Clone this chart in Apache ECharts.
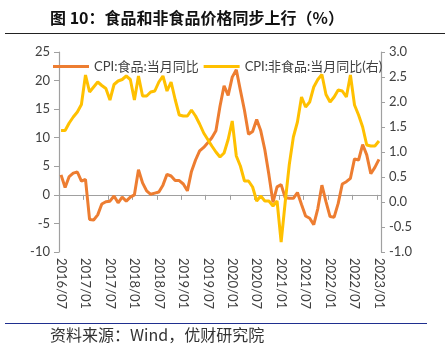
<!DOCTYPE html>
<html><head><meta charset="utf-8">
<script src="https://cdn.jsdelivr.net/npm/echarts@6/dist/echarts.min.js"></script>
<style>html,body{margin:0;padding:0;background:#fff}#c{width:445px;height:351px}</style>
</head><body><div id="c"></div>
<script>
// Monthly categories 2016/07 .. 2023/01
const months = [];
for (let y = 2016, m = 7; y < 2023 || (y === 2023 && m <= 1); m++) {
  if (m > 12) { m = 1; y++; }
  if (y === 2023 && m > 1) break;
  months.push(y + '/' + String(m).padStart(2, '0'));
}

// CPI: food, YoY (%) – left axis
const foodCPI = [
  3.5, 1.3, 3.2, 3.8, 4.0, 2.4, 2.7,
  -4.3, -4.4, -3.5, -1.6, -1.2, -1.1, -0.2, -1.4, -0.4, -1.1, -0.4, 0.0,
  4.4, 2.1, 0.7, 0.1, 0.3, 0.5, 1.7, 3.6, 3.3, 2.5, 2.5, 1.9,
  0.7, 4.1, 6.1, 7.7, 8.3, 9.1, 10.0, 11.2, 15.5, 19.1, 17.4, 20.6,
  21.9, 18.3, 14.8, 10.6, 11.1, 13.2, 11.2, 7.9, 3.5, -1.3, 1.4, 1.8,
  -0.5, -0.6, -0.6, 0.4, -1.7, -3.7, -4.1, -5.2, -2.4, 1.7, -1.2, -3.8,
  -3.9, -1.5, 1.9, 2.3, 2.9, 6.3, 6.1, 8.8, 7.0, 3.7, 4.8, 6.2
];

// CPI: non-food, YoY (%) – right axis
const nonFoodCPI = [
  1.43, 1.43, 1.58, 1.7, 1.8, 1.95, 2.54,
  2.2, 2.3, 2.4, 2.33, 2.27, 2.04, 2.35, 2.42, 2.45, 2.52, 2.45, 2.04,
  2.52, 2.12, 2.12, 2.2, 2.22, 2.4, 2.52, 2.22, 2.4, 2.05, 1.74, 1.72,
  1.72, 1.84, 1.72, 1.56, 1.38, 1.25, 1.12, 1.0, 0.9, 0.98, 1.25, 1.62,
  0.92, 0.72, 0.42, 0.42, 0.3, 0.02, 0.12, 0.02, 0.02, -0.08, 0.02, -0.8,
  0.0, 0.75, 1.3, 1.6, 2.1, 1.9, 2.0, 2.3, 2.45, 2.55, 2.15, 2.0,
  2.1, 2.24, 2.22, 2.1, 2.54, 1.94, 1.74, 1.5, 1.14, 1.12, 1.12, 1.22
];

const seriesNames = ['CPI:食品:当月同比', 'CPI:非食品:当月同比(右)'];
const leftAxis = { min: -10, max: 25, interval: 5 };
const rightAxis = { min: -1, max: 3, interval: 0.5 };

const chart = echarts.init(document.getElementById('c'), null, { renderer: 'canvas' });
const axisColor = '#A0A0A0';
const labelColor = '#404040';
const fontFam = 'Lato, "Noto Sans CJK SC", sans-serif';

chart.setOption({
  animation: false,
  backgroundColor: '#fff',
  grid: { left: 59, right: 64, top: 52, bottom: 99, containLabel: false },
  legend: {
    left: 48, top: 55, icon: 'rect', itemWidth: 36, itemHeight: 3, itemGap: 5,
    textStyle: { fontSize: 13, color: labelColor, fontFamily: fontFam },
    data: seriesNames
  },
  xAxis: [
    {
      type: 'category', data: months, boundaryGap: true,
      axisLine: { onZero: true, onZeroAxisIndex: 0, lineStyle: { color: axisColor, width: 1.2 } },
      axisTick: { show: true, interval: 5, length: 5, lineStyle: { color: axisColor } },
      axisLabel: { show: false }
    },
    {
      type: 'category', data: months, boundaryGap: true, position: 'bottom',
      axisLine: { show: false }, axisTick: { show: false },
      axisLabel: { interval: 5, rotate: -90, margin: 6, fontSize: 13, color: labelColor, fontFamily: fontFam }
    }
  ],
  yAxis: [
    {
      type: 'value', position: 'left', min: leftAxis.min, max: leftAxis.max, interval: leftAxis.interval,
      axisLine: { show: true, lineStyle: { color: axisColor, width: 1.2 } },
      axisTick: { show: true, length: 5, lineStyle: { color: axisColor } },
      splitLine: { show: false },
      axisLabel: { margin: 9, fontSize: 13, color: labelColor, fontFamily: fontFam }
    },
    {
      type: 'value', position: 'right', min: rightAxis.min, max: rightAxis.max, interval: rightAxis.interval,
      axisLine: { show: true, lineStyle: { color: axisColor, width: 1.2 } },
      axisTick: { show: true, length: 4, lineStyle: { color: axisColor } },
      splitLine: { show: false },
      axisLabel: { margin: 8, fontSize: 13, color: labelColor, fontFamily: fontFam,
        formatter: v => v.toFixed(1) }
    }
  ],
  series: [
    {
      name: seriesNames[0], type: 'line', data: foodCPI, xAxisIndex: 0, yAxisIndex: 0,
      showSymbol: false, symbol: 'none', lineStyle: { width: 3, color: '#ED7D31' }, itemStyle: { color: '#ED7D31' }
    },
    {
      name: seriesNames[1], type: 'line', data: nonFoodCPI, xAxisIndex: 0, yAxisIndex: 1,
      showSymbol: false, symbol: 'none', lineStyle: { width: 3, color: '#FFC000' }, itemStyle: { color: '#FFC000' }
    }
  ],
  graphic: [
    { type: 'text', left: 50, top: 10, style: { text: '图 10：食品和非食品价格同步上行（%）', fontSize: 16, fontWeight: 'bold', fill: '#111', fontFamily: '"Noto Sans CJK SC", sans-serif' } },
    { type: 'line', shape: { x1: 5, y1: 33.5, x2: 445, y2: 33.5 }, style: { stroke: '#222', lineWidth: 1 } },
    { type: 'line', shape: { x1: 5, y1: 323.5, x2: 427, y2: 323.5 }, style: { stroke: '#1F2F8F', lineWidth: 1 } },
    { type: 'text', left: 50, top: 327, style: { text: '资料来源：Wind，优财研究院', fontSize: 16, fill: '#333', fontFamily: '"Noto Sans CJK SC", sans-serif' } }
  ]
});
</script>
</body></html>
